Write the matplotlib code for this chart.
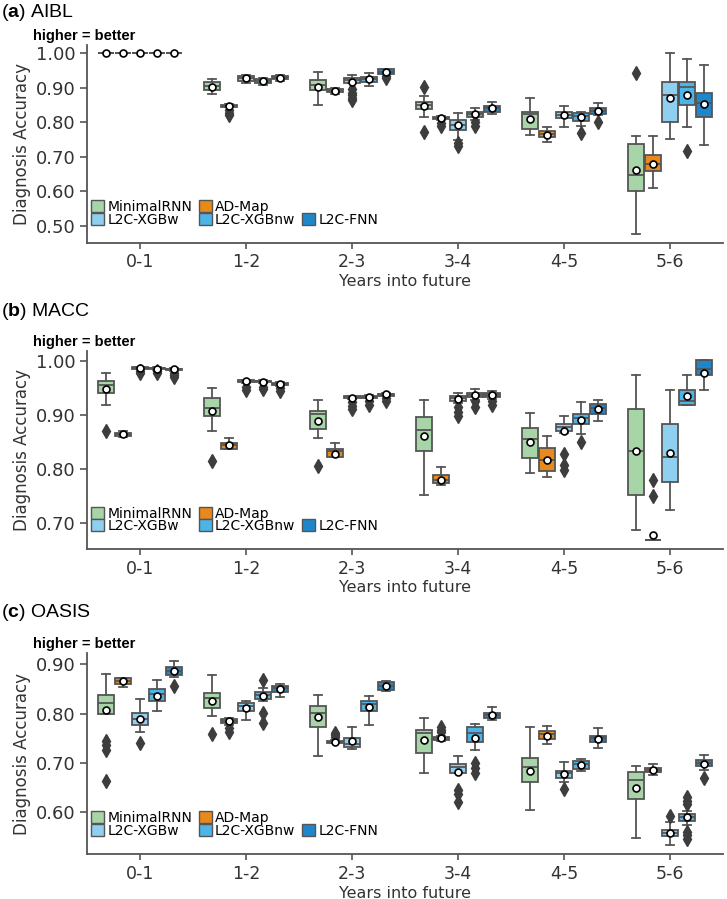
import matplotlib.pyplot as plt
import matplotlib.ticker as ticker
from matplotlib.patches import Patch

"""
Diagnosis accuracy per forecast year for three cohorts (AIBL, MACC, OASIS),
one box per model, drawn from box statistics read off the original figure.
"""

MODELS = ['MinimalRNN', 'AD-Map', 'L2C-XGBw', 'L2C-XGBnw', 'L2C-FNN']
COLORS = ['#a8d5a8', '#e8891c', '#8fd0f1', '#4cb4e6', '#1f87c9']
YEARS = ['0-1', '1-2', '2-3', '3-4', '4-5', '5-6']

# ---- AIBL : one row per year bin, one value per model ----
AIBL_LO = [
    [1.000, 1.000, 1.000, 1.000, 1.000],
    [0.881, 0.843, 0.913, 0.909, 0.921],
    [0.850, 0.882, 0.913, 0.905, 0.940],
    [0.816, 0.806, 0.749, 0.807, 0.824],
    [0.763, 0.744, 0.785, 0.790, 0.821],
    [0.476, 0.610, 0.751, 0.785, 0.734],
]
AIBL_Q1 = [
    [1.000, 1.000, 1.000, 1.000, 1.000],
    [0.894, 0.845, 0.920, 0.913, 0.925],
    [0.894, 0.887, 0.915, 0.918, 0.940],
    [0.838, 0.809, 0.778, 0.816, 0.831],
    [0.780, 0.757, 0.811, 0.805, 0.823],
    [0.601, 0.660, 0.800, 0.850, 0.816],
]
AIBL_MED = [
    [1.000, 1.000, 1.000, 1.000, 1.000],
    [0.905, 0.848, 0.927, 0.919, 0.929],
    [0.908, 0.892, 0.922, 0.925, 0.946],
    [0.849, 0.812, 0.793, 0.824, 0.840],
    [0.823, 0.767, 0.822, 0.817, 0.834],
    [0.647, 0.680, 0.879, 0.901, 0.855],
]
AIBL_Q3 = [
    [1.000, 1.000, 1.000, 1.000, 1.000],
    [0.918, 0.851, 0.933, 0.925, 0.934],
    [0.922, 0.897, 0.929, 0.932, 0.953],
    [0.859, 0.815, 0.807, 0.831, 0.847],
    [0.831, 0.776, 0.830, 0.828, 0.841],
    [0.737, 0.705, 0.918, 0.918, 0.886],
]
AIBL_HI = [
    [1.000, 1.000, 1.000, 1.000, 1.000],
    [0.926, 0.853, 0.938, 0.929, 0.936],
    [0.947, 0.900, 0.938, 0.942, 0.955],
    [0.877, 0.817, 0.826, 0.841, 0.860],
    [0.871, 0.787, 0.847, 0.831, 0.855],
    [0.760, 0.760, 1.000, 0.984, 0.966],
]
AIBL_MEAN = [
    [1.000, 1.000, 1.000, 1.000, 1.000],
    [0.903, 0.847, 0.927, 0.919, 0.929],
    [0.903, 0.892, 0.918, 0.925, 0.946],
    [0.847, 0.811, 0.791, 0.824, 0.840],
    [0.810, 0.764, 0.821, 0.814, 0.834],
    [0.662, 0.679, 0.869, 0.880, 0.854],
]
AIBL_FLIERS = [
    [[], [], [], [], []],
    [[], [0.835, 0.828, 0.822], [], [], []],
    [[], [], [0.895, 0.886, 0.878, 0.870, 0.864], [], [0.935, 0.928]],
    [[0.903, 0.771], [0.797, 0.790], [0.739, 0.730], [0.800, 0.790], []],
    [[], [], [], [0.768], [0.800]],
    [[0.942], [], [], [0.718], []],
]

# ---- MACC ----
MACC_LO = [
    [0.918, 0.858, 0.984, 0.983, 0.981],
    [0.870, 0.836, 0.958, 0.958, 0.953],
    [0.856, 0.821, 0.929, 0.930, 0.934],
    [0.751, 0.770, 0.922, 0.928, 0.929],
    [0.793, 0.785, 0.866, 0.865, 0.889],
    [0.686, 0.669, 0.723, 0.917, 0.946],
]
MACC_Q1 = [
    [0.940, 0.860, 0.985, 0.984, 0.982],
    [0.897, 0.837, 0.960, 0.960, 0.955],
    [0.873, 0.821, 0.930, 0.931, 0.935],
    [0.833, 0.774, 0.926, 0.932, 0.932],
    [0.820, 0.796, 0.869, 0.883, 0.901],
    [0.751, 0.669, 0.776, 0.917, 0.973],
]
MACC_MED = [
    [0.955, 0.864, 0.987, 0.986, 0.984],
    [0.912, 0.843, 0.962, 0.962, 0.957],
    [0.901, 0.833, 0.932, 0.933, 0.938],
    [0.871, 0.780, 0.931, 0.937, 0.937],
    [0.855, 0.816, 0.878, 0.893, 0.912],
    [0.833, 0.669, 0.821, 0.925, 0.985],
]
MACC_Q3 = [
    [0.962, 0.867, 0.988, 0.987, 0.985],
    [0.930, 0.848, 0.964, 0.963, 0.959],
    [0.907, 0.836, 0.934, 0.935, 0.939],
    [0.895, 0.788, 0.935, 0.940, 0.940],
    [0.876, 0.839, 0.883, 0.901, 0.919],
    [0.911, 0.669, 0.883, 0.946, 1.001],
]
MACC_HI = [
    [0.978, 0.869, 0.989, 0.988, 0.986],
    [0.950, 0.856, 0.965, 0.964, 0.960],
    [0.927, 0.847, 0.935, 0.936, 0.940],
    [0.927, 0.804, 0.941, 0.947, 0.944],
    [0.904, 0.860, 0.898, 0.923, 0.928],
    [0.973, 0.669, 0.946, 0.973, 1.001],
]
MACC_MEAN = [
    [0.948, 0.864, 0.987, 0.985, 0.984],
    [0.907, 0.843, 0.962, 0.961, 0.957],
    [0.888, 0.828, 0.931, 0.932, 0.938],
    [0.860, 0.780, 0.929, 0.937, 0.937],
    [0.849, 0.817, 0.870, 0.890, 0.910],
    [0.833, 0.677, 0.830, 0.935, 0.977],
]
MACC_FLIERS = [
    [[0.870], [], [0.981, 0.978], [0.980, 0.977], [0.977, 0.973, 0.970]],
    [[0.815], [], [0.952, 0.946], [0.952, 0.947], [0.950, 0.943]],
    [[0.805], [], [0.924, 0.916, 0.910], [0.925, 0.918], [0.930, 0.925]],
    [[], [], [0.915, 0.905, 0.898], [0.925, 0.915], [0.926, 0.918]],
    [[], [], [0.828, 0.807, 0.798], [0.849], []],
    [[], [0.779, 0.750], [], [], []],
]

# ---- OASIS ----
OASIS_LO = [
    [0.799, 0.853, 0.763, 0.805, 0.874],
    [0.795, 0.777, 0.786, 0.826, 0.833],
    [0.714, 0.740, 0.728, 0.777, 0.845],
    [0.680, 0.744, 0.680, 0.726, 0.787],
    [0.605, 0.738, 0.661, 0.684, 0.730],
    [0.548, 0.676, 0.534, 0.574, 0.686],
]
OASIS_Q1 = [
    [0.799, 0.859, 0.777, 0.826, 0.878],
    [0.812, 0.780, 0.805, 0.829, 0.843],
    [0.773, 0.740, 0.732, 0.806, 0.847],
    [0.721, 0.746, 0.680, 0.742, 0.790],
    [0.661, 0.748, 0.670, 0.688, 0.742],
    [0.627, 0.682, 0.552, 0.582, 0.694],
]
OASIS_MED = [
    [0.821, 0.866, 0.788, 0.839, 0.887],
    [0.831, 0.785, 0.815, 0.838, 0.851],
    [0.802, 0.743, 0.738, 0.820, 0.855],
    [0.760, 0.750, 0.691, 0.760, 0.797],
    [0.692, 0.758, 0.679, 0.698, 0.750],
    [0.665, 0.686, 0.558, 0.590, 0.700],
]
OASIS_Q3 = [
    [0.837, 0.871, 0.801, 0.849, 0.894],
    [0.842, 0.789, 0.821, 0.843, 0.856],
    [0.816, 0.745, 0.750, 0.825, 0.863],
    [0.767, 0.753, 0.698, 0.772, 0.802],
    [0.711, 0.765, 0.684, 0.703, 0.755],
    [0.682, 0.690, 0.565, 0.597, 0.705],
]
OASIS_HI = [
    [0.880, 0.873, 0.829, 0.867, 0.907],
    [0.878, 0.792, 0.826, 0.851, 0.859],
    [0.838, 0.746, 0.772, 0.836, 0.866],
    [0.790, 0.755, 0.714, 0.779, 0.813],
    [0.772, 0.775, 0.701, 0.707, 0.771],
    [0.694, 0.698, 0.580, 0.603, 0.716],
]
OASIS_MEAN = [
    [0.807, 0.865, 0.788, 0.836, 0.886],
    [0.826, 0.785, 0.811, 0.836, 0.849],
    [0.794, 0.742, 0.744, 0.814, 0.855],
    [0.747, 0.750, 0.682, 0.751, 0.798],
    [0.684, 0.755, 0.677, 0.695, 0.749],
    [0.650, 0.686, 0.559, 0.590, 0.698],
]
OASIS_FLIERS = [
    [[0.745, 0.736, 0.726, 0.664], [], [0.740], [], [0.856]],
    [[0.758], [0.770, 0.763], [], [0.868, 0.801, 0.780], []],
    [[], [0.761, 0.756, 0.752], [], [], []],
    [[], [0.772, 0.766, 0.762], [0.646, 0.638, 0.620], [0.699, 0.689, 0.679], []],
    [[], [], [0.647], [], []],
    [[], [], [0.592], [0.632, 0.623, 0.617, 0.561, 0.554, 0.547], [0.669]],
]

LINE = '#555555'
plt.rcParams['font.family'] = 'DejaVu Sans'
plt.rcParams['mathtext.fontset'] = 'custom'
plt.rcParams['mathtext.rm'] = 'Liberation Sans'
plt.rcParams['mathtext.bf'] = 'Liberation Sans:bold'


def draw_panel(ax, lo, q1, med, q3, hi, mean, fliers, ylim, yticks):
    stats, positions, colors = [], [], []
    for g in range(len(YEARS)):
        for m in range(len(MODELS)):
            stats.append(dict(whislo=lo[g][m], q1=q1[g][m], med=med[g][m],
                              q3=q3[g][m], whishi=hi[g][m], mean=mean[g][m],
                              fliers=fliers[g][m]))
            positions.append(g + (m - 2) * 0.16)
            colors.append(COLORS[m])

    res = ax.bxp(stats, positions=positions, widths=0.155, patch_artist=True,
                 showmeans=True, manage_ticks=False,
                 boxprops=dict(edgecolor=LINE, linewidth=1.3),
                 medianprops=dict(color=LINE, linewidth=1.3),
                 whiskerprops=dict(color=LINE, linewidth=1.3),
                 capprops=dict(color=LINE, linewidth=1.3),
                 flierprops=dict(marker='d', markerfacecolor='#3d3d3d',
                                 markeredgecolor='#3d3d3d', markersize=7),
                 meanprops=dict(marker='o', markerfacecolor='white',
                                markeredgecolor='black', markersize=5,
                                markeredgewidth=1.2))
    for box, c in zip(res['boxes'], colors):
        box.set_facecolor(c)

    ax.set_xlim(-0.5, 5.5)
    ax.set_ylim(*ylim)
    ax.set_xticks(range(len(YEARS)))
    ax.set_xticklabels(YEARS)
    ax.set_yticks(yticks)
    ax.yaxis.set_major_formatter(ticker.FormatStrFormatter('%.2f'))
    ax.tick_params(axis='both', color=LINE, labelcolor='#333333', width=1.2)
    ax.tick_params(axis='x', labelsize=12.5, length=4)
    ax.tick_params(axis='y', labelsize=13, length=5)
    for side in ['top', 'right']:
        ax.spines[side].set_visible(False)
    for side in ['left', 'bottom']:
        ax.spines[side].set_color(LINE)
        ax.spines[side].set_linewidth(1.3)
    ax.set_xlabel('Years into future', fontsize=11.5, color='#333333', labelpad=2)
    ax.set_ylabel('Diagnosis Accuracy', fontsize=12, color='#333333', labelpad=3)

    ax.annotate('higher = better', xy=(0, 1), xycoords='axes fraction',
                xytext=(-39, 1.5), textcoords='offset points',
                ha='left', va='bottom', fontsize=10.5, fontweight='bold',
                family='Liberation Sans')

    # 2 rows: MinimalRNN, AD-Map / L2C-XGBw, L2C-XGBnw, L2C-FNN
    h = [Patch(facecolor=c, edgecolor=LINE, linewidth=1) for c in COLORS]
    blank = Patch(facecolor='none', edgecolor='none')
    handles = [h[0], h[2], h[1], h[3], blank, h[4]]
    labels = [MODELS[0], MODELS[2], MODELS[1], MODELS[3], '', MODELS[4]]
    ax.legend(handles, labels, ncol=3, loc='center left',
              bbox_to_anchor=(0.0, 0.148), frameon=False, fontsize=10,
              handlelength=0.95, handleheight=0.95, handletextpad=0.2,
              columnspacing=0.5, labelspacing=-0.1, borderpad=0,
              borderaxespad=0.3)


fig = plt.figure(figsize=(7.27, 8.99), dpi=100)
ax_a = fig.add_axes([0.1197, 0.730, 0.875, 0.220])
ax_b = fig.add_axes([0.1197, 0.389, 0.875, 0.221])
ax_c = fig.add_axes([0.1197, 0.0497, 0.875, 0.2236])

draw_panel(ax_a, AIBL_LO, AIBL_Q1, AIBL_MED, AIBL_Q3, AIBL_HI, AIBL_MEAN,
           AIBL_FLIERS, (0.451, 1.024), [0.5, 0.6, 0.7, 0.8, 0.9, 1.0])
draw_panel(ax_b, MACC_LO, MACC_Q1, MACC_MED, MACC_Q3, MACC_HI, MACC_MEAN,
           MACC_FLIERS, (0.651, 1.0185), [0.7, 0.8, 0.9, 1.0])
draw_panel(ax_c, OASIS_LO, OASIS_Q1, OASIS_MED, OASIS_Q3, OASIS_HI, OASIS_MEAN,
           OASIS_FLIERS, (0.515, 0.922), [0.6, 0.7, 0.8, 0.9])

for y, txt in [(0.9866, r'($\mathbf{a}$) AIBL'),
               (0.653, r'($\mathbf{b}$) MACC'),
               (0.3187, r'($\mathbf{c}$) OASIS')]:
    fig.text(0.001, y, txt, fontsize=14, va='center', ha='left',
             family='Liberation Sans')

fig.savefig('out.png', dpi=100)
